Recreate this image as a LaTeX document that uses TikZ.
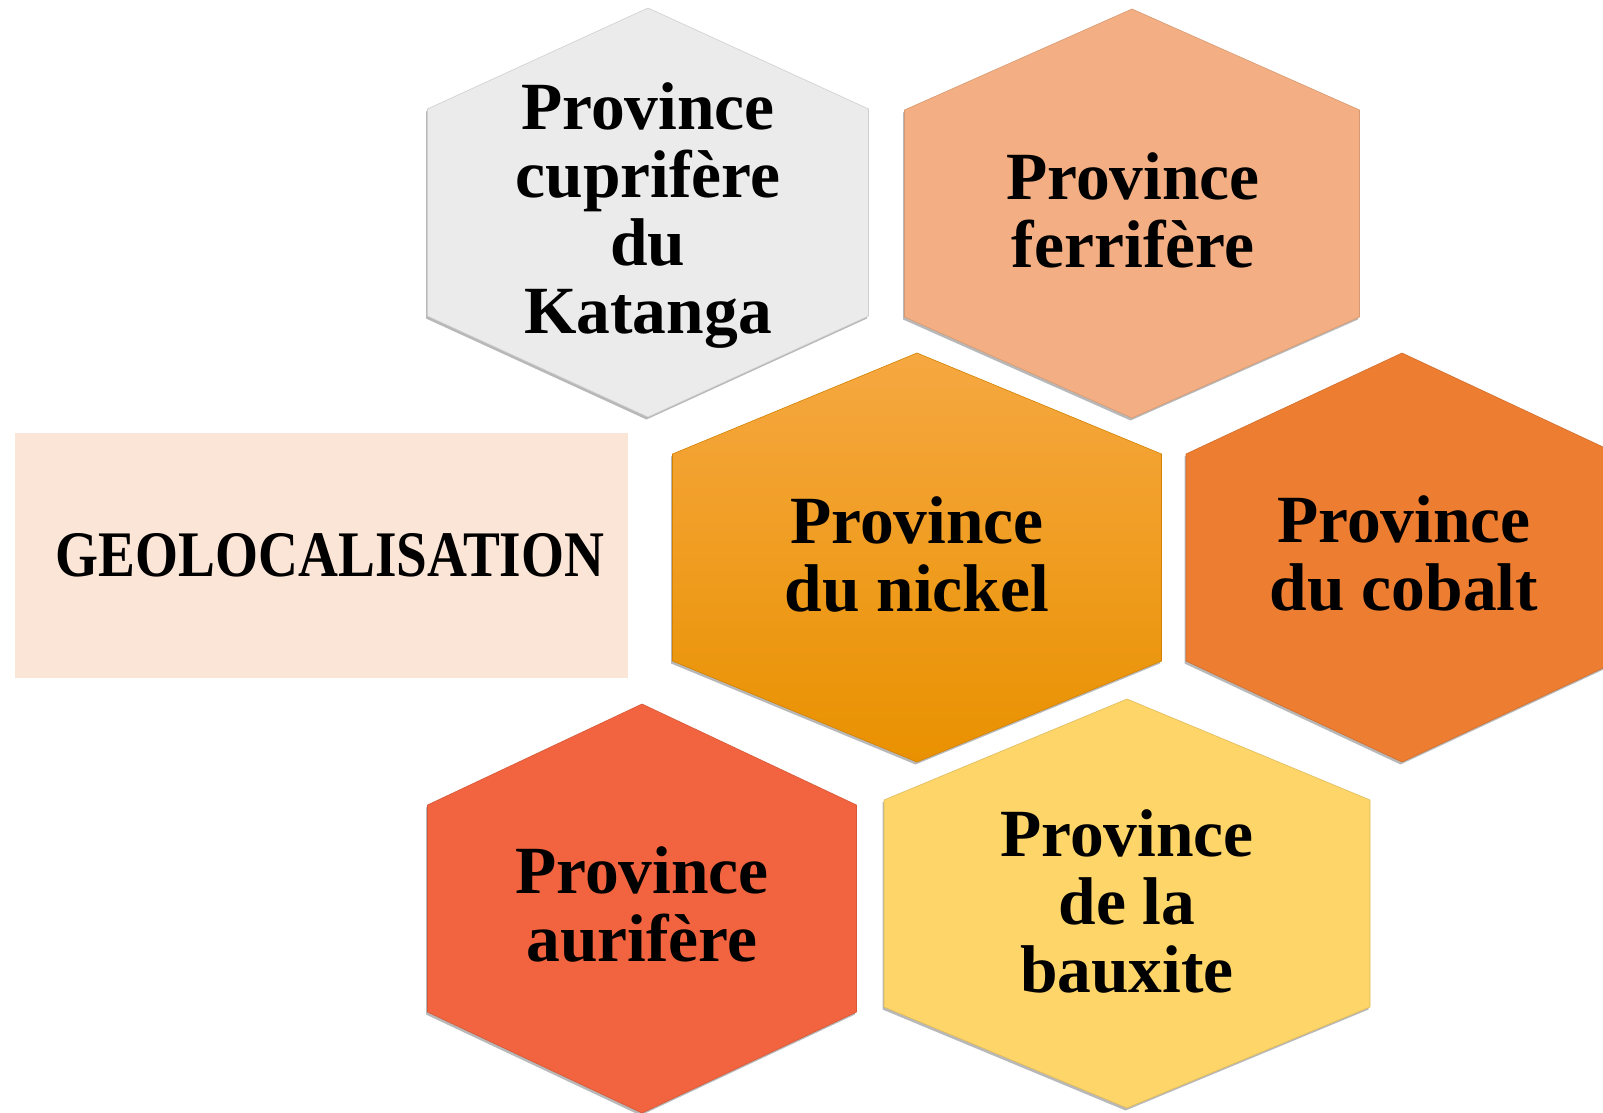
\documentclass[tikz,border=0pt]{standalone}
\usepackage{fontspec}
\setmainfont{Liberation Serif}
\usetikzlibrary{shadows}
\definecolor{hgray}{HTML}{EBEBEB}
\definecolor{hpeach}{HTML}{F3AF83}
\definecolor{hnickA}{HTML}{F6A841}
\definecolor{hnickB}{HTML}{FBA00B}
\definecolor{hnickC}{HTML}{E99100}
\definecolor{hcobalt}{HTML}{ED7D31}
\definecolor{hgold}{HTML}{F26440}
\definecolor{hbaux}{HTML}{FDD569}
\definecolor{rectfill}{HTML}{FBE5D6}
\tikzset{
  hexshadow/.style={drop shadow={shadow xshift=-1.5pt,shadow yshift=-2.5pt,opacity=0.28,fill=black}},
  hexshape/.style={hexshadow, fill=#1, draw=#1!88!black, line width=0.6pt},
  hexlabel/.style={align=center, inner sep=0pt, font=\fontsize{67.5}{68}\selectfont\bfseries},
}
\newcommand\hexpath[3]{(#1,#2) -- ++(#3,101) -- ++(0,207) -- ++(-#3,101) -- ++(-#3,-101) -- ++(0,-207) -- cycle}
\begin{document}
\begin{tikzpicture}[x=1pt,y=-1pt]
\useasboundingbox (0,0) rectangle (1603,1113);
\fill[white] (0,0) rectangle (1603,1113);
\clip (0,0) rectangle (1603,1113);
% title box
\fill[rectfill] (15,433) rectangle (628,678);
\node[inner sep=0pt, anchor=base] (title) at (330,576)
  {\scalebox{0.85}[1]{\fontsize{65}{66}\selectfont\bfseries GEOLOCALISATION}};
% hexagons
\path[hexshape=hgray] \hexpath{648}{8}{220.5};
\path[hexshape=hpeach] \hexpath{1132}{9}{227.5};
\path[hexshadow, top color=hnickA, middle color=hnickB, bottom color=hnickC, draw=hnickC!90!black, line width=0.6pt] \hexpath{917}{353}{244.5};
\path[hexshape=hcobalt] \hexpath{1402}{353}{216};
\path[hexshape=hgold] \hexpath{642}{704}{214.5};
\path[hexshape=hbaux] \hexpath{1127}{699}{243};
% labels
\node[hexlabel] (cu) at (648,216) {Province\\cuprifère\\du\\Katanga};
\node[hexlabel] (fe) at (1133,210) {Province\\ferrifère};
\node[hexlabel] (ni) at (917,554) {Province\\du nickel};
\node[hexlabel] (co) at (1404,553) {Province\\du cobalt};
\node[hexlabel] (au) at (642,904.5) {Province\\aurifère};
\node[hexlabel] (al) at (1127,901) {Province\\de la\\bauxite};
\end{tikzpicture}
\end{document}
